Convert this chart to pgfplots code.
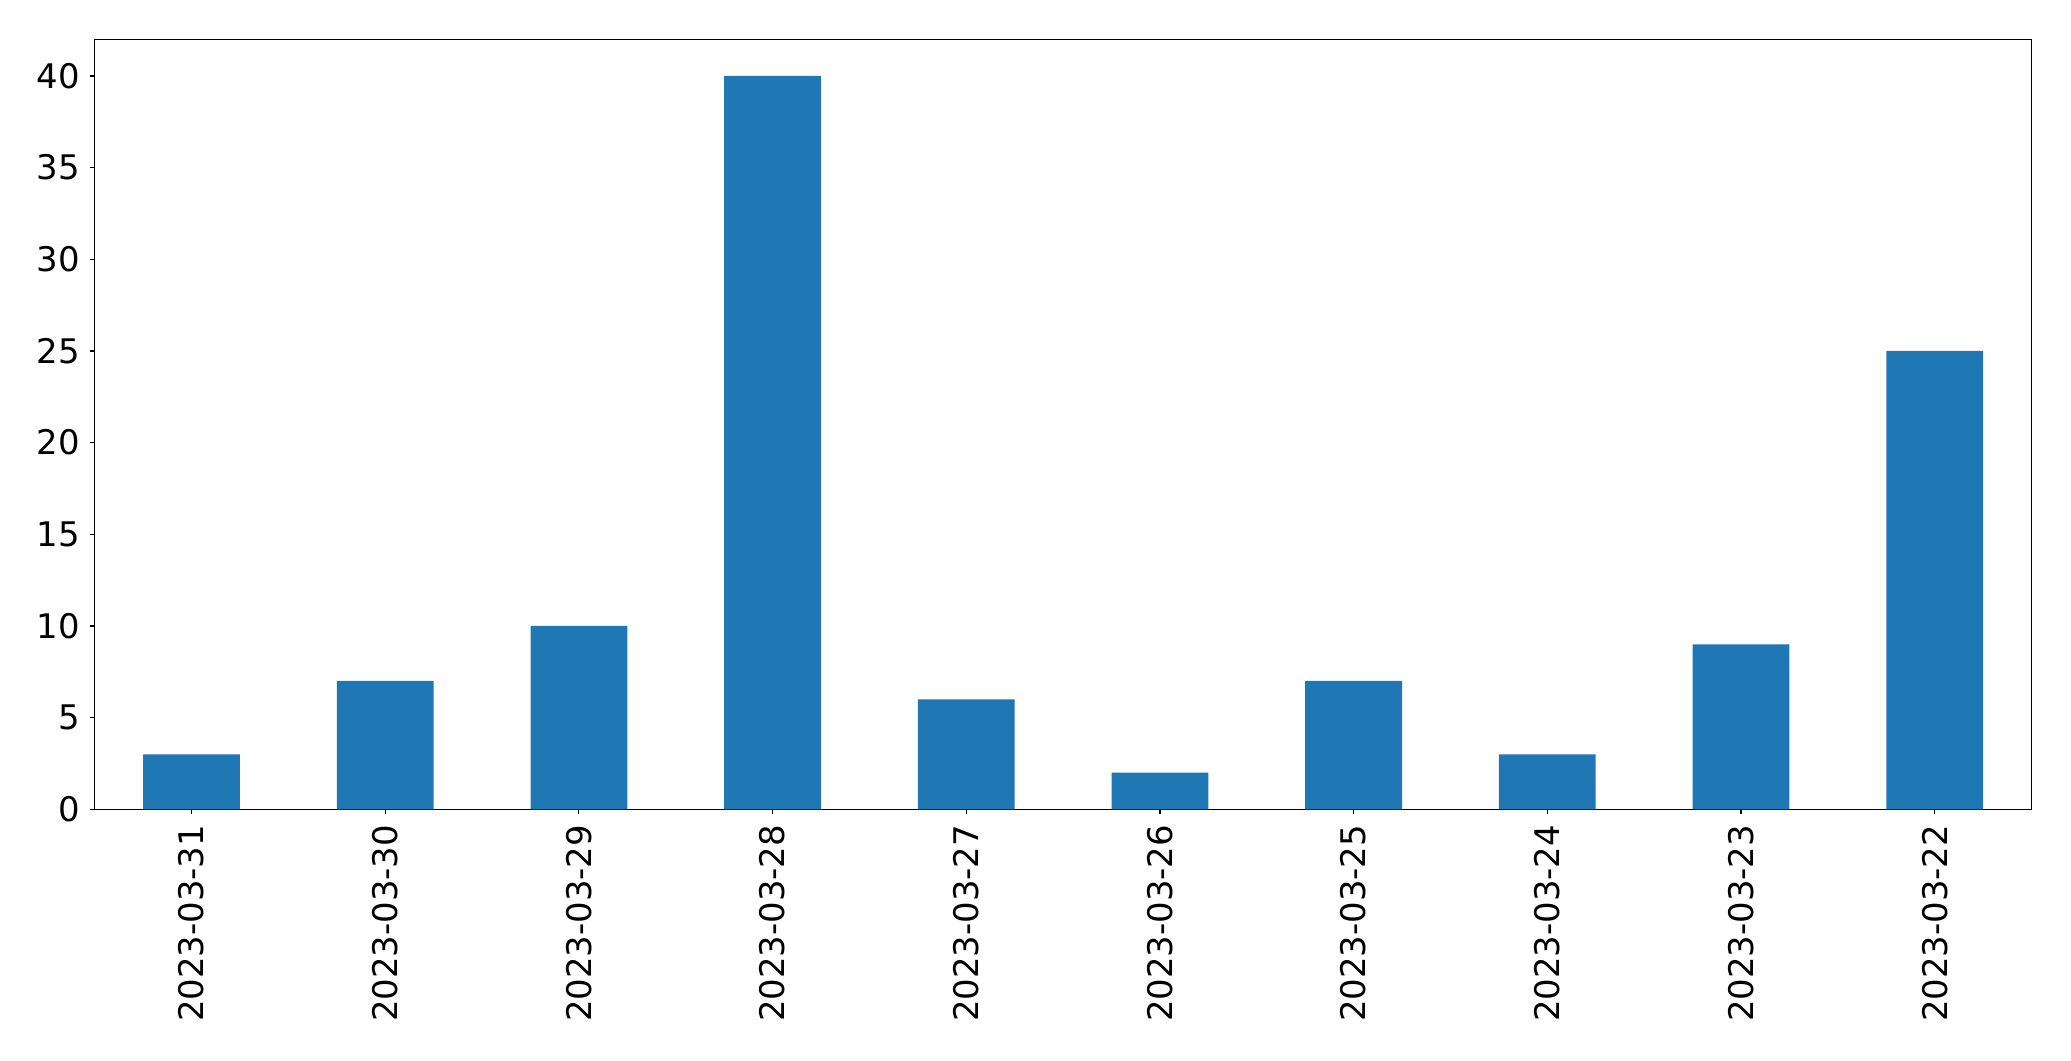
\documentclass[border=0pt]{standalone}
\usepackage{pgfplots}
\pgfplotsset{compat=1.18}
\usepackage{fontspec}
\setmainfont{DejaVu Sans}
\definecolor{mplblue}{HTML}{1F77B4}
\begin{document}
\fontsize{24.4bp}{29bp}\selectfont
\begin{tikzpicture}
\path[use as bounding box] (-68.2bp,-181.2bp) rectangle (1422.9bp,582.7bp);
\begin{axis}[
  at={(0,0)}, anchor=south west,
  scale only axis,
  width=1394.4bp, height=554.4bp,
  xmin=-0.5, xmax=9.5, ymin=0, ymax=42,
  xtick={0,...,9},
  xticklabels={2023-03-31,2023-03-30,2023-03-29,2023-03-28,2023-03-27,2023-03-26,2023-03-25,2023-03-24,2023-03-23,2023-03-22},
  ytick={0,5,10,15,20,25,30,35,40},
  tick align=outside,
  major tick length=3.5bp,
  tick style={line width=0.8bp, black},
  axis line style={line width=0.8bp},
  xtick pos=bottom, ytick pos=left,
  /pgf/number format/assume math mode=true,
  ticklabel style={font=\fontsize{24.4bp}{29bp}\selectfont},
  xticklabel style={rotate=90, anchor=east, inner sep=0pt, xshift=-7.5bp},
  yticklabel style={inner sep=0pt, xshift=-7bp},
]
\addplot[ybar, bar width=0.5, fill=mplblue, draw=none] coordinates {
 (0,3) (1,7) (2,10) (3,40) (4,6) (5,2) (6,7) (7,3) (8,9) (9,25)
};
\end{axis}
\end{tikzpicture}
\end{document}
